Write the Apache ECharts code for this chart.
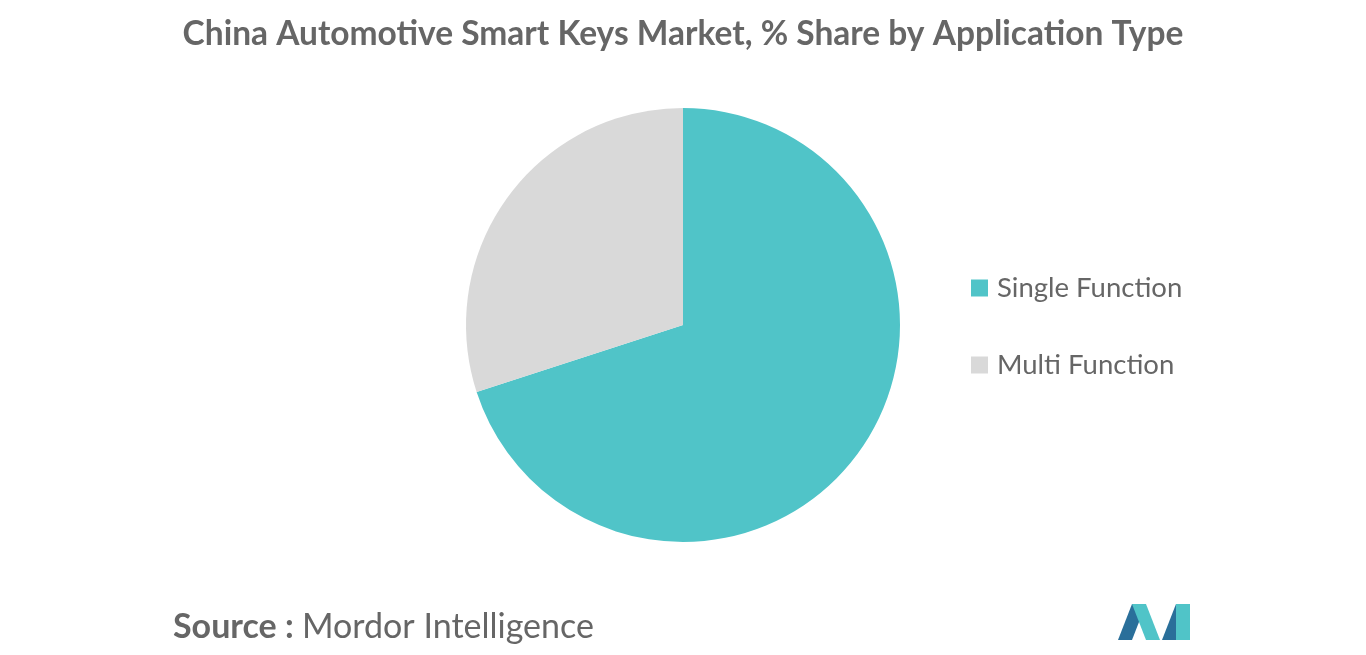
<!DOCTYPE html>
<html>
<head>
<meta charset="utf-8">
<script src="https://cdn.jsdelivr.net/npm/echarts@6/dist/echarts.min.js"></script>
<style>
    html, body { margin: 0; padding: 0; background: #fff; }
    #chart { width: 1366px; height: 655px; }
</style>
</head>
<body>
<div id="chart"></div>
<script>
    let categories = ['Single Function', 'Multi Function'];
    let shares = [70, 30];
    let colorList = ['#50c4c8', '#d9d9d9'];

    let chart = echarts.init(document.getElementById('chart'));
    let seriesData = [];
    for (let i = 0; i < categories.length; i++) {
        seriesData.push({ name: categories[i], value: shares[i] });
    }
    let option = {
        color: colorList,
        animation: false,
        title: {
            text: 'China Automotive Smart Keys Market, % Share by Application Type',
            left: 'center',
            top: 12,
            textStyle: {
                fontFamily: 'Lato, "Noto Sans", sans-serif',
                fontSize: 33.5,
                fontWeight: 'bold',
                color: '#666666'
            }
        },
        legend: {
            orient: 'vertical',
            left: 966,
            top: 269,
            itemWidth: 17,
            itemHeight: 17,
            itemGap: 49,
            icon: 'rect',
            data: categories,
            textStyle: {
                fontFamily: 'Lato, "Noto Sans", sans-serif',
                fontSize: 27.5,
                color: '#666666',
                padding: [0, 0, 0, 4]
            }
        },
        graphic: [
            {
                type: 'text',
                left: 173,
                top: 610,
                style: {
                    text: 'Source :',
                    font: 'bold 34px Lato, "Noto Sans", sans-serif',
                    fill: '#666666'
                }
            },
            {
                type: 'text',
                left: 302,
                top: 610,
                style: {
                    text: 'Mordor Intelligence',
                    font: '34px Lato, "Noto Sans", sans-serif',
                    fill: '#666666'
                }
            },
            // logo
            { type: 'polygon', shape: { points: [[1118, 640], [1132, 604], [1146, 604], [1132, 640]] }, style: { fill: '#2a6f9a' } },
            { type: 'polygon', shape: { points: [[1132, 604], [1146, 604], [1160, 640], [1146, 640]] }, style: { fill: '#50c4c8' } },
            { type: 'polygon', shape: { points: [[1162, 640], [1176, 604], [1190, 604], [1176, 640]] }, style: { fill: '#2a6f9a' } },
            { type: 'polygon', shape: { points: [[1176, 604], [1190, 604], [1190, 640], [1176, 640]] }, style: { fill: '#50c4c8' } }
        ],
        series: [
            {
                name: 'Share',
                type: 'pie',
                center: [683, 325],
                radius: ['0%', 217],
                startAngle: 90,
                clockwise: true,
                label: { show: false },
                labelLine: { show: false },
                emphasis: { disabled: true },
                itemStyle: { borderWidth: 0 },
                data: seriesData
            }
        ]
    };
    chart.setOption(option);
</script>
</body>
</html>
